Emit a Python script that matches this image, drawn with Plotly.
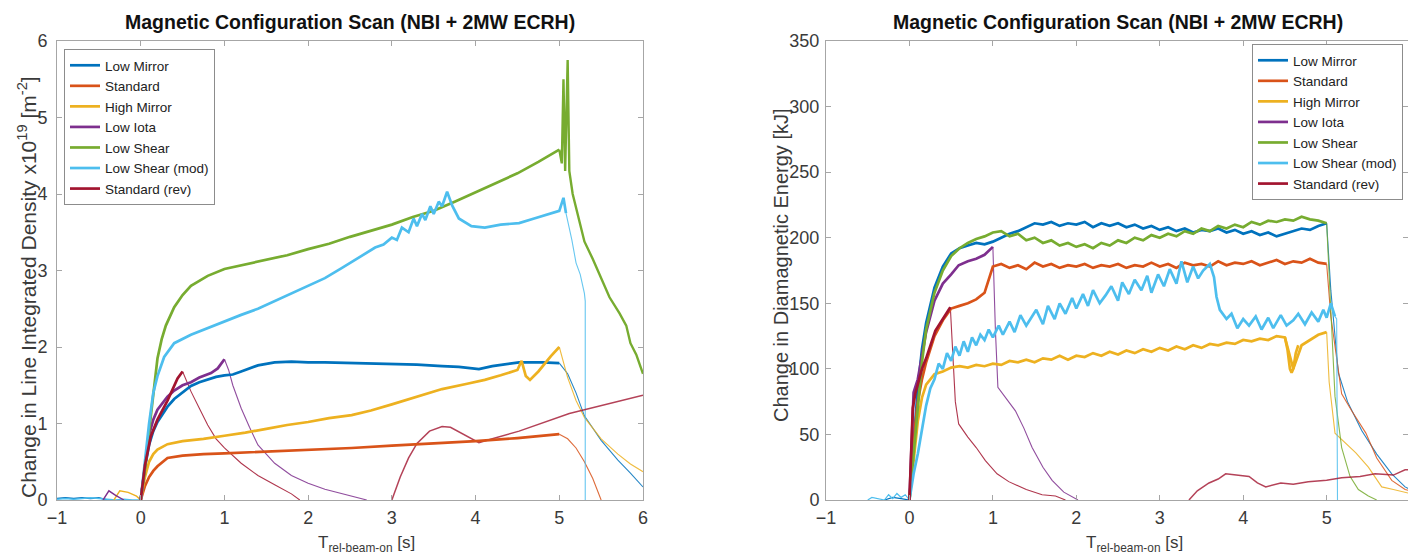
import plotly.graph_objects as go

# ---------------- colours / names ----------------
names = ["Low Mirror", "Standard", "High Mirror", "Low Iota", "Low Shear", "Low Shear (mod)", "Standard (rev)"]
colors = ["#0072BD", "#D95319", "#EDB120", "#7E2F8E", "#77AC30", "#4DBEEE", "#A2142F"]

# ================= LEFT PANEL: line integrated density [1e19 m^-2] =================
# Low Mirror
ld_lm_on_t = [0, 0.05, 0.1, 0.15, 0.2, 0.32, 0.4, 0.5, 0.6, 0.7, 0.8, 0.9, 1.0, 1.1, 1.2, 1.3, 1.4, 1.5, 1.6, 1.8, 2.0, 2.2, 2.5, 2.8, 3.0, 3.3, 3.6, 3.8, 4.04, 4.2, 4.52, 4.8, 5.0]
ld_lm_on_v = [0, 0.42, 0.72, 0.9, 1.02, 1.22, 1.32, 1.41, 1.49, 1.54, 1.58, 1.61, 1.63, 1.64, 1.68, 1.72, 1.76, 1.78, 1.8, 1.81, 1.8, 1.8, 1.79, 1.78, 1.78, 1.77, 1.75, 1.74, 1.71, 1.75, 1.8, 1.8, 1.79]
ld_lm_off_t = [5.0, 5.1, 5.2, 5.3, 5.5, 5.7, 5.85, 6.0]
ld_lm_off_v = [1.79, 1.65, 1.4, 1.1, 0.78, 0.52, 0.35, 0.17]
ld_lm_pre_t = [-1.0, -0.9, -0.8, -0.7, -0.6, -0.5, -0.4]
ld_lm_pre_v = [0.02, 0.03, 0.02, 0.03, 0.02, 0.03, 0.0]

# Standard
ld_st_on_t = [0, 0.05, 0.1, 0.15, 0.2, 0.32, 0.5, 0.75, 1.0, 1.5, 2.0, 2.52, 3.0, 3.5, 4.0, 4.5, 5.0]
ld_st_on_v = [0, 0.18, 0.3, 0.38, 0.44, 0.55, 0.58, 0.6, 0.61, 0.63, 0.65, 0.68, 0.71, 0.74, 0.77, 0.81, 0.86]
ld_st_off_t = [5.0, 5.1, 5.2, 5.3, 5.4, 5.5]
ld_st_off_v = [0.86, 0.8, 0.68, 0.5, 0.28, 0.0]

# High Mirror
ld_hm_on_t = [0, 0.05, 0.1, 0.15, 0.2, 0.32, 0.5, 0.75, 1.0, 1.25, 1.5, 1.75, 2.0, 2.25, 2.52, 2.75, 3.0, 3.3, 3.6, 3.9, 4.11, 4.3, 4.5, 4.55, 4.6, 4.65, 4.75, 4.9, 5.0]
ld_hm_on_v = [0, 0.3, 0.5, 0.6, 0.66, 0.73, 0.77, 0.8, 0.84, 0.88, 0.93, 0.98, 1.02, 1.07, 1.11, 1.17, 1.25, 1.35, 1.45, 1.52, 1.57, 1.63, 1.7, 1.82, 1.62, 1.57, 1.68, 1.88, 2.0]
ld_hm_off_t = [5.0, 5.1, 5.2, 5.3, 5.5, 5.7, 5.85, 6.0]
ld_hm_off_v = [2.0, 1.6, 1.3, 1.08, 0.8, 0.6, 0.47, 0.37]
ld_hm_pre_t = [-0.32, -0.25, -0.15, -0.05, 0.0]
ld_hm_pre_v = [0.0, 0.12, 0.1, 0.05, 0.0]

# Low Iota
ld_li_on_t = [0, 0.05, 0.1, 0.15, 0.2, 0.32, 0.4, 0.5, 0.6, 0.7, 0.84, 0.92, 1.0]
ld_li_on_v = [0, 0.45, 0.85, 1.05, 1.18, 1.35, 1.43, 1.5, 1.54, 1.6, 1.66, 1.72, 1.84]
ld_li_off_t = [1.0, 1.05, 1.1, 1.2, 1.3, 1.4, 1.5, 1.6, 1.8, 2.0, 2.2, 2.4, 2.6, 2.7]
ld_li_off_v = [1.84, 1.7, 1.5, 1.2, 0.95, 0.72, 0.6, 0.48, 0.32, 0.22, 0.14, 0.08, 0.03, 0.0]
ld_li_pre_t = [-0.45, -0.38, -0.3, -0.2]
ld_li_pre_v = [0.0, 0.12, 0.06, 0.0]

# Low Shear
ld_ls_on_t = [0, 0.05, 0.1, 0.15, 0.2, 0.25, 0.3, 0.4, 0.5, 0.6, 0.8, 1.0, 1.25, 1.5, 1.75, 2.0, 2.25, 2.5, 2.75, 3.0, 3.25, 3.5, 3.75, 4.0, 4.25, 4.5, 4.75, 5.0]
ld_ls_on_v = [0, 0.4, 0.9, 1.4, 1.85, 2.1, 2.28, 2.52, 2.68, 2.8, 2.93, 3.02, 3.08, 3.14, 3.2, 3.28, 3.35, 3.44, 3.52, 3.6, 3.7, 3.78, 3.9, 4.02, 4.15, 4.27, 4.42, 4.58]
ld_ls_off_t = [5.0, 5.03, 5.05, 5.07, 5.1, 5.12, 5.16, 5.3, 5.4, 5.5, 5.6, 5.72, 5.8, 5.85, 5.92, 6.0]
ld_ls_off_v = [4.58, 4.4, 5.5, 4.3, 5.75, 4.3, 4.0, 3.38, 3.15, 2.9, 2.65, 2.44, 2.28, 2.05, 1.9, 1.65]

# Low Shear (mod)
ld_lsm_on_t = [0, 0.05, 0.1, 0.15, 0.2, 0.28, 0.4, 0.6, 0.8, 1.0, 1.2, 1.4, 1.6, 1.8, 2.0, 2.2, 2.4, 2.6, 2.8, 2.9, 3.0, 3.06, 3.12, 3.2, 3.26, 3.3, 3.36, 3.4, 3.46, 3.5, 3.56, 3.6, 3.66, 3.72, 3.8, 3.95, 4.11, 4.3, 4.52, 4.7, 4.9, 5.0, 5.05, 5.08]
ld_lsm_on_v = [0, 0.5, 1.0, 1.4, 1.62, 1.87, 2.05, 2.16, 2.25, 2.33, 2.42, 2.5, 2.6, 2.7, 2.8, 2.9, 3.03, 3.17, 3.3, 3.34, 3.43, 3.4, 3.56, 3.5, 3.68, 3.58, 3.74, 3.66, 3.84, 3.74, 3.9, 3.84, 4.03, 3.85, 3.68, 3.58, 3.56, 3.6, 3.62, 3.68, 3.74, 3.78, 3.95, 3.75]
ld_lsm_off_t = [5.08, 5.15, 5.2, 5.25, 5.3, 5.31, 5.31]
ld_lsm_off_v = [3.75, 3.4, 3.1, 2.95, 2.7, 2.6, 0.0]
ld_lsm_pre_t = [-1.0, -0.9, -0.8, -0.7, -0.6, -0.5, -0.4, -0.3, -0.2, -0.1, 0.0]
ld_lsm_pre_v = [0.01, 0.02, 0.01, 0.02, 0.03, 0.02, 0.01, 0.0, 0.01, 0.0, 0.0]

# Standard (rev)
ld_sr_on_t = [0, 0.05, 0.12, 0.2, 0.32, 0.44, 0.5]
ld_sr_on_v = [0, 0.45, 0.83, 1.05, 1.3, 1.59, 1.68]
ld_sr_off_t = [0.5, 0.55, 0.6, 0.7, 0.8, 0.9, 1.0, 1.2, 1.4, 1.6, 1.8, 1.9]
ld_sr_off_v = [1.68, 1.55, 1.42, 1.2, 0.98, 0.8, 0.68, 0.48, 0.32, 0.2, 0.08, 0.0]
ld_sr_late_t = [3.0, 3.1, 3.2, 3.3, 3.45, 3.6, 3.7, 3.84, 4.04, 4.2, 4.52, 5.12, 5.5, 6.0]
ld_sr_late_v = [0.0, 0.3, 0.55, 0.74, 0.9, 0.96, 0.95, 0.87, 0.75, 0.8, 0.9, 1.13, 1.23, 1.37]

# ================= RIGHT PANEL: diamagnetic energy [kJ] =================
grid_t = [0, 0.05, 0.1, 0.15, 0.2, 0.3, 0.4, 0.5, 0.6, 0.7, 0.8, 0.9, 1.0, 1.1, 1.2, 1.3, 1.4, 1.5, 1.6, 1.7, 1.8, 1.9, 2.0, 2.1, 2.2, 2.3, 2.4, 2.5, 2.6, 2.7, 2.8, 2.9, 3.0, 3.1, 3.2, 3.3, 3.4, 3.5, 3.6, 3.7, 3.8, 3.9, 4.0, 4.1, 4.2, 4.3, 4.4, 4.5, 4.6, 4.7, 4.8, 4.9, 5.0]

# Low Mirror
wd_lm_on_v = [0, 45, 85, 115, 135, 162, 178, 188, 192, 194, 196, 195, 197, 200, 203, 205, 208, 211, 210, 212, 209, 211, 210, 212, 208, 211, 209, 211, 208, 210, 207, 209, 206, 208, 205, 207, 204, 206, 205, 207, 204, 206, 203, 205, 202, 204, 201, 203, 205, 207, 206, 209, 211]
wd_lm_off_t = [5.0, 5.05, 5.14, 5.25, 5.42, 5.6, 5.78, 5.94, 6.0]
wd_lm_off_v = [211, 160, 97, 75, 53, 35, 20, 10, 8]
wd_lm_pre_t = [-0.3, -0.2, -0.1, 0.0]
wd_lm_pre_v = [0, 2, 1, 0]

# Standard
wd_st_on_v = [0, 45, 75, 92, 105, 125, 137, 146, 148, 150, 153, 158, 178, 180, 177, 179, 176, 181, 178, 180, 177, 179, 178, 180, 177, 179, 178, 180, 177, 179, 178, 181, 178, 180, 177, 181, 179, 180, 178, 182, 179, 181, 180, 182, 179, 181, 183, 180, 182, 181, 184, 181, 180]
wd_st_off_t = [5.0, 5.05, 5.18, 5.3, 5.47, 5.6, 5.78, 5.94, 6.0]
wd_st_off_v = [180, 140, 81, 68, 51, 32, 15, 8, 7]

# High Mirror
wd_hm_on_v = [0, 30, 60, 78, 88, 96, 98, 101, 102, 101, 103, 102, 104, 103, 106, 105, 107, 105, 108, 107, 110, 107, 110, 109, 112, 110, 113, 111, 114, 112, 115, 113, 116, 114, 117, 115, 118, 116, 119, 118, 120, 119, 122, 121, 123, 122, 125, 124, 100, 118, 122, 126, 128]
wd_hm_dip_t = [4.5, 4.53, 4.56, 4.58, 4.6, 4.63, 4.66]
wd_hm_dip_v = [124, 115, 100, 97, 100, 112, 118]
wd_hm_off_t = [5.0, 5.03, 5.1, 5.2, 5.35, 5.5, 5.66, 5.8, 6.0]
wd_hm_off_v = [128, 90, 51, 45, 36, 25, 10, 8, 5]

# Low Iota
wd_li_on_t = [0, 0.03, 0.05, 0.07, 0.1, 0.15, 0.2, 0.3, 0.4, 0.5, 0.59, 0.7, 0.8, 0.9, 0.95, 1.0]
wd_li_on_v = [0, 50, 82, 86, 92, 110, 128, 152, 165, 172, 179, 182, 184, 187, 190, 193]
wd_li_off_t = [1.0, 1.03, 1.06, 1.15, 1.27, 1.37, 1.47, 1.6, 1.71, 1.85, 2.02]
wd_li_off_v = [193, 130, 86, 78, 68, 55, 40, 25, 15, 6, 0]

# Low Shear
wd_ls_on_v = [0, 35, 70, 105, 130, 158, 175, 186, 192, 196, 199, 201, 204, 205, 201, 203, 198, 200, 196, 198, 194, 196, 193, 195, 192, 196, 194, 198, 196, 200, 198, 202, 200, 203, 201, 205, 203, 207, 205, 209, 207, 210, 208, 212, 210, 213, 212, 214, 213, 216, 214, 213, 211]
wd_ls_off_t = [5.0, 5.05, 5.1, 5.18, 5.28, 5.38, 5.5, 5.6]
wd_ls_off_v = [211, 140, 79, 40, 18, 8, 3, 0]

# Low Shear (mod)
wd_lsm_on_t = [0, 0.05, 0.1, 0.15, 0.2, 0.25, 0.3, 0.35, 0.4, 0.45, 0.5, 0.55, 0.6, 0.65, 0.7, 0.75, 0.8, 0.85, 0.9, 0.95, 1.0, 1.07, 1.12, 1.2, 1.26, 1.33, 1.4, 1.45, 1.52, 1.6, 1.66, 1.74, 1.8, 1.87, 1.95, 2.0, 2.08, 2.14, 2.2, 2.28, 2.35, 2.42, 2.5, 2.55, 2.63, 2.7, 2.78, 2.85, 2.9, 2.98, 3.05, 3.12, 3.2, 3.26, 3.33, 3.4, 3.46, 3.52, 3.6, 3.65, 3.68, 3.72, 3.8, 3.86, 3.93, 4.0, 4.07, 4.15, 4.22, 4.3, 4.36, 4.45, 4.52, 4.6, 4.66, 4.74, 4.82, 4.9, 4.96, 5.0, 5.05, 5.1]
wd_lsm_on_v = [0, 20, 35, 55, 72, 85, 92, 104, 100, 112, 106, 117, 110, 121, 113, 124, 118, 126, 122, 130, 124, 133, 126, 136, 128, 141, 133, 138, 145, 134, 148, 138, 150, 142, 154, 146, 157, 148, 160, 150, 156, 163, 152, 166, 157, 168, 160, 171, 158, 172, 163, 176, 165, 182, 166, 178, 169, 175, 180, 170, 155, 145, 138, 142, 131, 138, 133, 140, 130, 139, 131, 141, 133, 137, 142, 134, 143, 136, 145, 139, 150, 140]
wd_lsm_off_t = [5.1, 5.12, 5.13]
wd_lsm_off_v = [140, 138, 0]
wd_lsm_pre_t = [-0.5, -0.45, -0.3, -0.25, -0.2, -0.15, -0.1, -0.05, 0.0]
wd_lsm_pre_v = [0, 2, 0, 4, 1, 5, 2, 4, 0]

# Standard (rev)
wd_sr_on_t = [0, 0.02, 0.04, 0.07, 0.1, 0.15, 0.2, 0.31, 0.4, 0.49]
wd_sr_on_v = [0, 30, 70, 81, 88, 100, 108, 129, 138, 147]
wd_sr_off_t = [0.49, 0.52, 0.55, 0.59, 0.7, 0.8, 0.91, 1.05, 1.19, 1.4, 1.59, 1.75, 1.87]
wd_sr_off_v = [147, 110, 75, 58, 48, 40, 30, 20, 14, 8, 4, 3, 0]
wd_sr_late_t = [3.35, 3.45, 3.59, 3.7, 3.79, 3.9, 4.07, 4.17, 4.27, 4.45, 4.6, 4.78, 5.0, 5.18, 5.4, 5.58, 5.8, 5.94, 6.0]
wd_sr_late_v = [0, 7, 13, 16, 20, 19, 18, 13, 10, 13, 12, 14, 15, 17, 18, 20, 19, 23, 23]

# ---------------- tick labels ----------------
x_ticks = [-1, 0, 1, 2, 3, 4, 5, 6]
yl_ticks = [0, 1, 2, 3, 4, 5, 6]
yr_ticks = [0, 50, 100, 150, 200, 250, 300, 350]

THICK = 2.7
THIN = 1.1
FONT = "Liberation Sans, Arial, Helvetica, sans-serif"

fig = go.Figure()


def add(x, y, i, width, axis, legend=None, opacity=1.0):
    fig.add_trace(go.Scatter(
        x=x, y=y, mode="lines",
        line=dict(color=colors[i], width=width),
        opacity=opacity,
        name=names[i],
        showlegend=legend is not None,
        legend=legend if legend else ("legend" if axis == 1 else "legend2"),
        xaxis="x" if axis == 1 else "x2",
        yaxis="y" if axis == 1 else "y2",
        hoverinfo="skip",
    ))


# ---- left panel ----
left_on = [(ld_lm_on_t, ld_lm_on_v), (ld_st_on_t, ld_st_on_v), (ld_hm_on_t, ld_hm_on_v),
           (ld_li_on_t, ld_li_on_v), (ld_ls_on_t, ld_ls_on_v), (ld_lsm_on_t, ld_lsm_on_v),
           (ld_sr_on_t, ld_sr_on_v)]
left_off = [(ld_lm_off_t, ld_lm_off_v), (ld_st_off_t, ld_st_off_v), (ld_hm_off_t, ld_hm_off_v),
            (ld_li_off_t, ld_li_off_v), (ld_ls_off_t, ld_ls_off_v), (ld_lsm_off_t, ld_lsm_off_v),
            (ld_sr_off_t, ld_sr_off_v)]
add(ld_lm_pre_t, ld_lm_pre_v, 0, 1.4, 1)
add(ld_lsm_pre_t, ld_lsm_pre_v, 5, 1.4, 1)
add(ld_hm_pre_t, ld_hm_pre_v, 2, 1.4, 1)
add(ld_li_pre_t, ld_li_pre_v, 3, 1.4, 1)
for i in range(7):
    w_off = 2.4 if i == 4 else THIN
    add(left_off[i][0], left_off[i][1], i, w_off, 1, opacity=0.85 if i != 4 else 1.0)
add(ld_sr_late_t, ld_sr_late_v, 6, 1.5, 1, opacity=0.8)
for i in range(7):
    add(left_on[i][0], left_on[i][1], i, THICK, 1, legend="legend")

# ---- right panel ----
right_on = [(grid_t, wd_lm_on_v), (grid_t, wd_st_on_v), (grid_t, wd_hm_on_v),
            (wd_li_on_t, wd_li_on_v), (grid_t, wd_ls_on_v), (wd_lsm_on_t, wd_lsm_on_v),
            (wd_sr_on_t, wd_sr_on_v)]
right_off = [(wd_lm_off_t, wd_lm_off_v), (wd_st_off_t, wd_st_off_v), (wd_hm_off_t, wd_hm_off_v),
             (wd_li_off_t, wd_li_off_v), (wd_ls_off_t, wd_ls_off_v), (wd_lsm_off_t, wd_lsm_off_v),
             (wd_sr_off_t, wd_sr_off_v)]
add(wd_lm_pre_t, wd_lm_pre_v, 0, 1.2, 2)
add(wd_lsm_pre_t, wd_lsm_pre_v, 5, 1.2, 2)
for i in range(7):
    add(right_off[i][0], right_off[i][1], i, THIN, 2, opacity=0.85)
add(wd_sr_late_t, wd_sr_late_v, 6, 1.5, 2, opacity=0.8)
for i in range(7):
    add(right_on[i][0], right_on[i][1], i, THICK, 2, legend="legend2")
add(wd_hm_dip_t, wd_hm_dip_v, 2, THICK, 2)

W, H = 1408, 557
axis_common = dict(
    showgrid=False, zeroline=False, showline=True, linecolor="#a6a6a6", linewidth=1,
    mirror="ticks", ticks="inside", ticklen=5, tickcolor="#a6a6a6", automargin=False,
    tickfont=dict(family=FONT, size=18, color="#3a3a3a"),
)

fig.update_layout(
    width=W, height=H,
    margin=dict(l=0, r=0, t=0, b=0, autoexpand=False),
    paper_bgcolor="white", plot_bgcolor="white",
    font=dict(family=FONT),
    xaxis=dict(domain=[57 / W, 643 / W], range=[-1, 6], tickvals=x_ticks, anchor="y",
               ticklabelstandoff=1, **axis_common),
    yaxis=dict(domain=[(H - 500) / H, (H - 41) / H], range=[0, 6], tickvals=yl_ticks, anchor="x",
               ticklabelstandoff=5, **axis_common),
    xaxis2=dict(domain=[826 / W, 1.0], range=[-1, 5.975], tickvals=x_ticks, anchor="y2",
                ticklabelstandoff=1, **axis_common),
    yaxis2=dict(domain=[(H - 500) / H, (H - 41) / H], range=[0, 350], tickvals=yr_ticks, anchor="x2",
                ticklabelstandoff=2, **axis_common),
    legend=dict(x=64 / W, y=1 - 49 / H, xanchor="left", yanchor="top",
                bgcolor="white", bordercolor="#8c8c8c", borderwidth=1,
                font=dict(family=FONT, size=13.5, color="#222"), itemwidth=30, tracegroupgap=0),
    legend2=dict(x=1252 / W, y=1 - 44 / H, xanchor="left", yanchor="top",
                 bgcolor="white", bordercolor="#8c8c8c", borderwidth=1,
                 font=dict(family=FONT, size=13.5, color="#222"), itemwidth=30, tracegroupgap=0),
)

title_txt = "<b>Magnetic Configuration Scan (NBI + 2MW ECRH)</b>"
common_ann = dict(xref="paper", yref="paper", showarrow=False, xanchor="center", yanchor="middle")
ann = [
    dict(text=title_txt, x=350 / W, y=1 - 22 / H, font=dict(family=FONT, size=19.5, color="#111"), **common_ann),
    dict(text=title_txt, x=1118 / W, y=1 - 22 / H, font=dict(family=FONT, size=19.5, color="#111"), **common_ann),
    dict(text="T<sub>rel-beam-on</sub> [s]", x=366 / W, y=1 - 544 / H,
         font=dict(family=FONT, size=17, color="#3a3a3a"), **common_ann),
    dict(text="T<sub>rel-beam-on</sub> [s]", x=1134 / W, y=1 - 544 / H,
         font=dict(family=FONT, size=17, color="#3a3a3a"), **common_ann),
    dict(text="Change in Line Integrated Density x10<sup>19</sup> [m<sup>-2</sup>]", x=27 / W, y=1 - 287 / H,
         textangle=-90, font=dict(family=FONT, size=21, color="#3a3a3a"), **common_ann),
    dict(text="Change in Diamagnetic Energy [kJ]", x=781 / W, y=1 - 265 / H,
         textangle=-90, font=dict(family=FONT, size=20, color="#3a3a3a"), **common_ann),
]
fig.update_layout(annotations=ann)

fig.write_html("out.html")
